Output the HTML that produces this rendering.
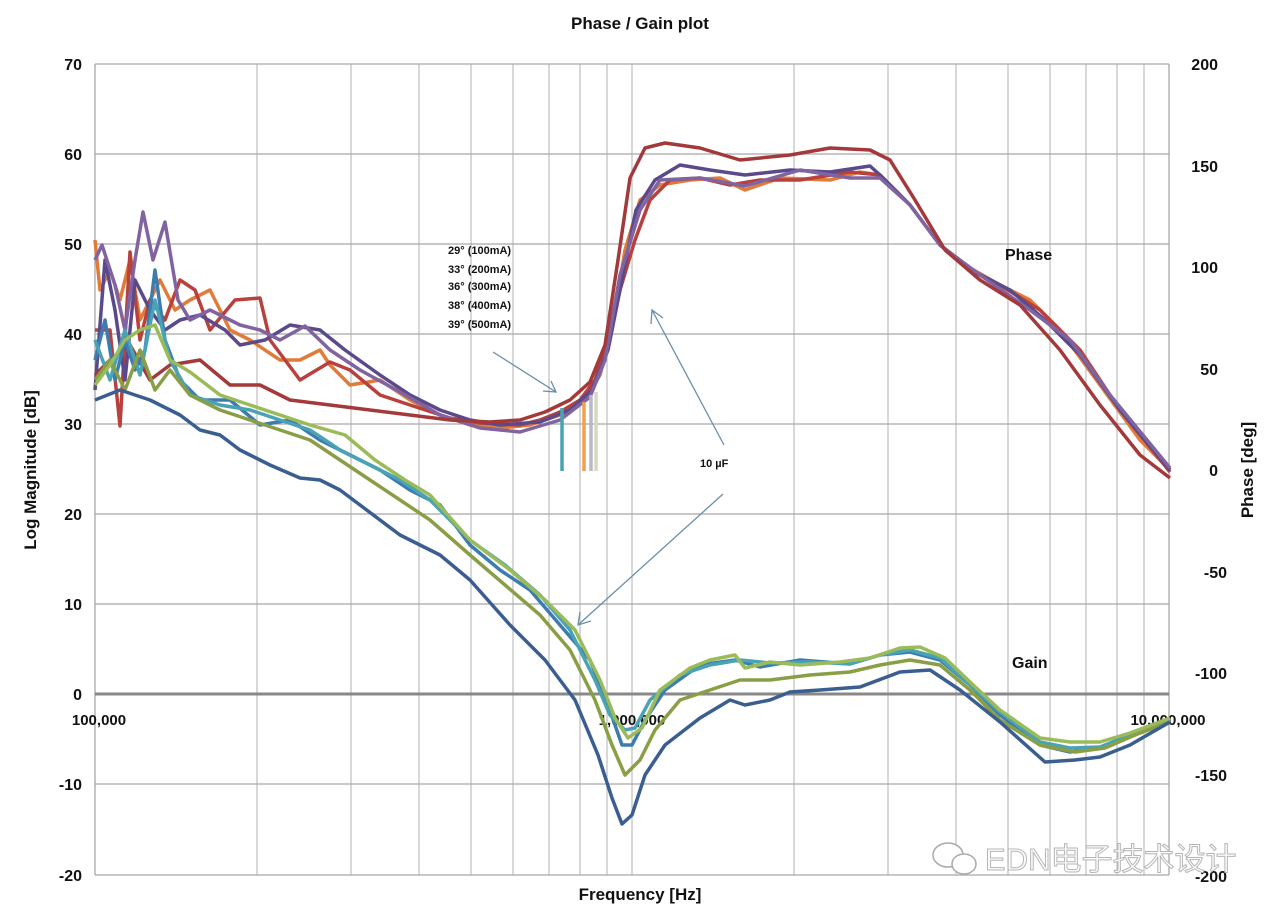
<!DOCTYPE html>
<html><head><meta charset="utf-8"><style>
body{margin:0;background:#fff;}
svg text{font-family:"Liberation Sans","Noto Sans CJK SC",sans-serif;font-weight:bold;fill:#111;}
</style></head><body>
<svg width="1280" height="916" viewBox="0 0 1280 916" xmlns="http://www.w3.org/2000/svg">
<rect width="1280" height="916" fill="#fff"/>
<g stroke="#bdbdbd" stroke-width="1.2">
<line x1="257" y1="64" x2="257" y2="875"/><line x1="351" y1="64" x2="351" y2="875"/><line x1="419" y1="64" x2="419" y2="875"/><line x1="471" y1="64" x2="471" y2="875"/><line x1="513" y1="64" x2="513" y2="875"/><line x1="549" y1="64" x2="549" y2="875"/><line x1="580" y1="64" x2="580" y2="875"/><line x1="607" y1="64" x2="607" y2="875"/><line x1="632" y1="64" x2="632" y2="875"/>
<line x1="794" y1="64" x2="794" y2="875"/><line x1="888" y1="64" x2="888" y2="875"/><line x1="956" y1="64" x2="956" y2="875"/><line x1="1008" y1="64" x2="1008" y2="875"/><line x1="1050" y1="64" x2="1050" y2="875"/><line x1="1086" y1="64" x2="1086" y2="875"/><line x1="1117" y1="64" x2="1117" y2="875"/><line x1="1144" y1="64" x2="1144" y2="875"/>
</g>
<g stroke="#a8a8a8" stroke-width="1.3">
<line x1="95" y1="64" x2="1169" y2="64"/><line x1="95" y1="154" x2="1169" y2="154"/><line x1="95" y1="244" x2="1169" y2="244"/><line x1="95" y1="334" x2="1169" y2="334"/><line x1="95" y1="424" x2="1169" y2="424"/><line x1="95" y1="514" x2="1169" y2="514"/><line x1="95" y1="604" x2="1169" y2="604"/><line x1="95" y1="784" x2="1169" y2="784"/><line x1="95" y1="875" x2="1169" y2="875"/>
<line x1="95" y1="64" x2="95" y2="875"/><line x1="1169" y1="64" x2="1169" y2="875"/>
</g>
<line x1="95" y1="694" x2="1169" y2="694" stroke="#888" stroke-width="3"/>
<g font-size="16" text-anchor="end">
<text x="82" y="70">70</text><text x="82" y="160">60</text><text x="82" y="250">50</text><text x="82" y="340">40</text><text x="82" y="430">30</text><text x="82" y="520">20</text><text x="82" y="610">10</text><text x="82" y="700">0</text><text x="82" y="790">-10</text><text x="82" y="881">-20</text>
</g>
<g font-size="16" text-anchor="end">
<text x="1218" y="70">200</text><text x="1218" y="172">150</text><text x="1218" y="273">100</text><text x="1218" y="375">50</text><text x="1218" y="476">0</text><text x="1227" y="578">-50</text><text x="1227" y="679">-100</text><text x="1227" y="781">-150</text><text x="1227" y="882">-200</text>
</g>
<g font-size="15" text-anchor="middle">
<text x="99" y="725">100,000</text><text x="632" y="725">1,000,000</text><text x="1168" y="725">10,000,000</text>
</g>
<text x="640" y="29" font-size="17" text-anchor="middle">Phase / Gain plot</text>
<text x="640" y="900" font-size="17" text-anchor="middle">Frequency [Hz]</text>
<text transform="translate(36,470) rotate(-90)" font-size="17" text-anchor="middle">Log Magnitude [dB]</text>
<text transform="translate(1253,470) rotate(-90)" font-size="17" text-anchor="middle">Phase [deg]</text>
<text x="1005" y="260" font-size="16">Phase</text>
<text x="1012" y="668" font-size="16">Gain</text>
<g font-size="11">
<text x="448" y="254">29° (100mA)</text><text x="448" y="273">33° (200mA)</text><text x="448" y="290">36° (300mA)</text><text x="448" y="309">38° (400mA)</text><text x="448" y="328">39° (500mA)</text>
<text x="700" y="467">10 µF</text>
</g>
<g fill="none" stroke-width="3.5" stroke-linejoin="round">
<polyline stroke="#e07b39" points="95,240 100,290 110,270 120,300 130,260 140,320 150,300 160,280 175,310 190,300 210,290 230,330 250,340 280,360 300,360 320,350 330,365 350,385 380,380 410,400 440,415 470,425 500,428 530,425 560,415 585,400 600,375 612,330 625,250 640,200 660,185 690,180 720,178 745,190 780,178 830,180 860,172 880,175 910,205 940,245 965,265 1000,285 1030,300 1060,330 1100,385 1140,440 1170,470"/>
<polyline stroke="#b8403d" points="95,330 110,330 120,426 130,252 140,340 150,300 165,320 180,280 195,290 210,330 235,300 260,298 270,340 300,380 330,362 350,370 380,395 410,405 450,418 480,423 520,425 540,420 560,412 580,400 595,380 608,340 620,290 635,240 650,200 670,180 700,178 730,185 760,180 800,180 850,172 880,175 910,205 940,245 970,270 1000,285 1040,310 1080,350 1120,410 1170,472"/>
<polyline stroke="#5b4a8b" points="95,390 105,260 115,310 125,380 135,280 150,310 165,330 180,320 200,315 225,330 240,345 265,340 290,325 320,330 345,350 380,375 410,395 440,410 470,420 500,425 540,422 570,410 592,390 608,350 622,280 636,210 655,180 680,165 710,170 745,175 790,170 830,172 870,166 880,175 910,205 940,245 975,272 1010,290 1045,320 1080,355 1120,410 1170,470"/>
<polyline stroke="#8064a2" points="95,260 102,245 115,285 125,330 135,260 143,212 153,260 165,222 178,300 190,320 210,310 240,325 260,330 280,340 305,326 330,350 360,370 400,392 440,415 480,428 520,432 560,420 590,397 605,360 620,275 640,210 660,180 700,178 745,186 800,170 850,178 880,178 910,205 940,245 980,275 1030,310 1070,340 1110,395 1170,468"/>
<polyline stroke="#a3393a" points="95,375 110,360 130,345 150,380 170,365 200,360 230,385 260,385 290,400 330,405 370,410 410,415 450,420 490,422 520,420 545,412 570,400 590,382 605,345 618,260 630,178 645,148 665,143 700,148 740,160 790,155 830,148 870,150 890,160 915,200 945,250 980,280 1020,305 1060,350 1100,405 1140,455 1170,478"/>
<polyline stroke="#3d7cae" points="95,360 105,320 115,380 125,340 135,370 145,350 155,270 165,340 180,380 200,400 230,400 260,425 290,420 320,440 350,455 380,470 410,490 440,505 470,545 500,570 530,590 560,625 590,660 608,705 622,745 632,745 645,720 665,690 700,665 735,660 760,667 800,660 850,664 880,655 910,652 940,660 970,685 1000,715 1040,745 1070,752 1100,748 1130,735 1170,720"/>
<polyline stroke="#4aa3b5" points="95,340 110,380 125,330 140,375 155,300 170,360 190,395 220,405 250,410 280,420 310,430 340,450 370,465 400,480 430,500 470,540 505,565 540,595 570,630 595,680 610,715 625,730 635,728 650,700 680,675 710,665 740,660 770,663 810,662 850,664 880,655 910,650 940,658 970,685 1000,712 1040,742 1070,748 1100,747 1130,735 1170,720"/>
<polyline stroke="#8a9e45" points="95,380 110,360 125,390 140,350 155,390 170,370 190,395 220,410 250,420 280,430 310,440 340,460 370,480 400,500 430,520 470,555 505,585 540,615 570,650 595,700 612,745 625,775 640,760 655,730 680,700 710,690 740,680 770,680 810,675 850,672 880,665 910,660 940,665 970,690 1000,720 1040,745 1075,752 1105,748 1135,735 1170,722"/>
<polyline stroke="#9bbb59" points="95,385 110,365 125,340 140,330 155,325 170,360 190,372 220,395 250,405 280,415 310,425 345,435 375,460 405,480 430,495 470,540 510,570 545,600 575,630 600,680 615,718 628,738 642,728 660,690 690,668 710,660 735,655 745,668 770,662 800,665 840,662 870,658 900,648 920,647 945,658 970,682 1000,710 1040,738 1070,742 1100,742 1130,733 1170,718"/>
<polyline stroke="#3b5e91" points="95,400 120,390 150,400 180,415 200,430 220,435 240,450 270,465 300,478 320,480 340,490 360,505 380,520 400,535 420,545 440,555 470,580 510,625 545,660 575,700 598,755 612,798 622,824 632,815 645,775 665,745 700,718 730,700 745,705 770,700 790,692 820,690 860,687 900,672 930,670 960,690 1000,722 1045,762 1075,760 1100,757 1130,745 1170,722"/>
</g>
<g stroke-width="3.5">
<line x1="562" y1="408" x2="562" y2="471" stroke="#4aa3b5"/>
<line x1="584" y1="402" x2="584" y2="471" stroke="#f0a050"/>
<line x1="591" y1="395" x2="591" y2="471" stroke="#b8b8c8"/>
<line x1="596" y1="392" x2="596" y2="471" stroke="#d8d8c0"/>
</g>
<g stroke="#6a8fa8" stroke-width="1.3" fill="none">
<line x1="493" y1="352" x2="556" y2="392"/><polyline points="543,391 556,392 551,381"/>
<line x1="724" y1="445" x2="652" y2="310"/><polyline points="651,324 652,310 663,318"/>
<line x1="723" y1="494" x2="578" y2="625"/><polyline points="580,612 578,625 591,621"/>
</g>
<g fill="#fff" stroke="#aaa" stroke-width="1.5">
<ellipse cx="948" cy="855" rx="15" ry="12"/>
<ellipse cx="964" cy="864" rx="12" ry="10"/>
</g>
<text x="985" y="870" font-size="31" style="fill:#fff;stroke:#b5b5b5;stroke-width:1;font-weight:normal">EDN电子技术设计</text>
</svg>
</body></html>
